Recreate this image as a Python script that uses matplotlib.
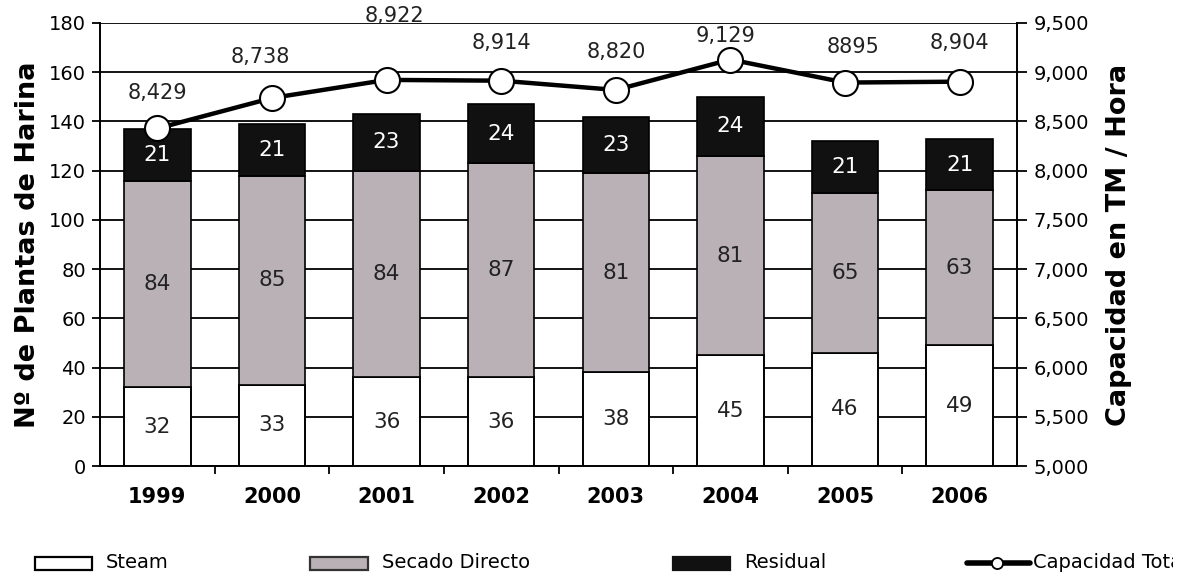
import matplotlib
matplotlib.use("Agg")
import matplotlib.pyplot as plt
from matplotlib.patches import Rectangle
from matplotlib.lines import Line2D
from matplotlib.transforms import Bbox

# ---- data ----
years = ["1999", "2000", "2001", "2002", "2003", "2004", "2005", "2006"]
steam = [32, 33, 36, 36, 38, 45, 46, 49]
secado_directo = [84, 85, 84, 87, 81, 81, 65, 63]
residual = [21, 21, 23, 24, 23, 24, 21, 21]
capacidad_total = [8429, 8738, 8922, 8914, 8820, 9129, 8895, 8904]
capacidad_labels = ["8,429", "8,738", "8,922", "8,914", "8,820", "9,129", "8895", "8,904"]
left_ticks = list(range(0, 181, 20))
right_ticks = list(range(5000, 9501, 500))
legend_names = ["Steam", "Secado Directo", "Residual", "Capacidad Total"]

# ---- style ----
label_dy_px = [35, 41, 64, 38, 38, 24, 36, 39]
label_dx_px = [0, -12, 8, 0, 0, -5, 8, 0]
W, H = 1196, 573
col_steam = "white"
col_secado = "#b9b1b6"
col_resid = "#111111"

fig = plt.figure(figsize=(W / 100, H / 100), dpi=100)
ax = fig.add_axes([100 / W, 107 / H, 917 / W, 443 / H])

x = list(range(len(years)))
bw = 0.58
ax.bar(x, steam, width=bw, color=col_steam, edgecolor="black", linewidth=1.4, zorder=3)
bot2 = steam
ax.bar(x, secado_directo, width=bw, bottom=bot2, color=col_secado, edgecolor="black", linewidth=1.2, zorder=3)
bot3 = [a + b for a, b in zip(steam, secado_directo)]
ax.bar(x, residual, width=bw, bottom=bot3, color=col_resid, edgecolor="black", linewidth=1.2, zorder=3)

for i in x:
    ax.text(i, steam[i] / 2, str(steam[i]), ha="center", va="center", fontsize=15.5, color="#222222", zorder=4)
    ax.text(i, steam[i] + secado_directo[i] / 2, str(secado_directo[i]), ha="center", va="center",
            fontsize=15.5, color="#222222", zorder=4)
    ax.text(i, bot3[i] + residual[i] / 2, str(residual[i]), ha="center", va="center",
            fontsize=15.5, color="white", zorder=4)

ax.set_xlim(-0.5, len(years) - 0.5)
ax.set_ylim(0, 180)
ax.set_yticks(left_ticks)
ax.set_yticklabels([str(v) for v in left_ticks], fontsize=14)
ax.yaxis.grid(True, color="black", linewidth=1.3)
ax.set_axisbelow(True)
ax.set_xticks([i - 0.5 for i in range(1, len(years))])
ax.set_xticklabels([])
ax.set_xticks(x, minor=True)
ax.set_xticklabels(years, minor=True, fontsize=15, fontweight="bold")
ax.tick_params(axis="x", which="minor", length=0, pad=15)
ax.tick_params(axis="x", which="major", length=6, width=1.3, direction="out")
ax.tick_params(axis="y", length=6, width=1.3, direction="out", pad=4)
ax.spines["top"].set_visible(False)
ax.spines["right"].set_visible(False)
for s in ["left", "bottom"]:
    ax.spines[s].set_linewidth(1.4)
ax.set_ylabel("Nº de Plantas de Harina", fontsize=19.5, fontweight="bold", labelpad=6)

ax2 = ax.twinx()
ax2.set_ylim(5000, 9500)
ax2.set_yticks(right_ticks)
ax2.set_yticklabels([f"{v:,}" for v in right_ticks], fontsize=14)
ax2.tick_params(axis="y", length=7, width=1.3, direction="out", pad=5)
for s in ["top", "left", "bottom"]:
    ax2.spines[s].set_visible(False)
ax2.spines["right"].set_linewidth(1.4)
ax2.plot(x, capacidad_total, color="black", linewidth=3.2, marker="o", markersize=18,
         markerfacecolor="white", markeredgecolor="black", markeredgewidth=1.5, zorder=5)
for i in x:
    ax2.annotate(capacidad_labels[i], (i, capacidad_total[i]),
                 xytext=(label_dx_px[i], label_dy_px[i]), textcoords="offset pixels",
                 ha="center", va="center", fontsize=15, color="#222222")
ax2.set_ylabel("Capacidad en TM / Hora", fontsize=19.5, fontweight="bold", labelpad=12)

# ---- legend (manual, figure coords) ----
yc = 563
def fy(py):
    return (H - py) / H

lg_fs = 14
fig.patches.append(Rectangle((35 / W, fy(570)), 57 / W, 13 / H, transform=fig.transFigure,
                             facecolor=col_steam, edgecolor="black", linewidth=1.6))
fig.text(106 / W, fy(yc), legend_names[0], fontsize=lg_fs, va="center", ha="left")
fig.patches.append(Rectangle((310 / W, fy(570)), 58 / W, 13 / H, transform=fig.transFigure,
                             facecolor=col_secado, edgecolor="#333333", linewidth=1.6))
fig.text(382 / W, fy(yc), legend_names[1], fontsize=lg_fs, va="center", ha="left")
fig.patches.append(Rectangle((673 / W, fy(570)), 57 / W, 13 / H, transform=fig.transFigure,
                             facecolor=col_resid, edgecolor=col_resid, linewidth=1.6))
fig.text(744 / W, fy(yc), legend_names[2], fontsize=lg_fs, va="center", ha="left")
fig.lines.append(Line2D([967 / W, 1030 / W], [fy(yc), fy(yc)], transform=fig.transFigure,
                        color="black", linewidth=4, solid_capstyle="round"))
fig.lines.append(Line2D([997 / W], [fy(yc)], transform=fig.transFigure, marker="o", markersize=8,
                        markerfacecolor="white", markeredgecolor="black", markeredgewidth=1.3))
t = fig.text(1033 / W, fy(yc), legend_names[3], fontsize=lg_fs, va="center", ha="left")
t.set_clip_box(Bbox.from_extents(0, 0, 1173, H))
t.set_clip_on(True)

fig.savefig("out.png", dpi=100, facecolor="white")
